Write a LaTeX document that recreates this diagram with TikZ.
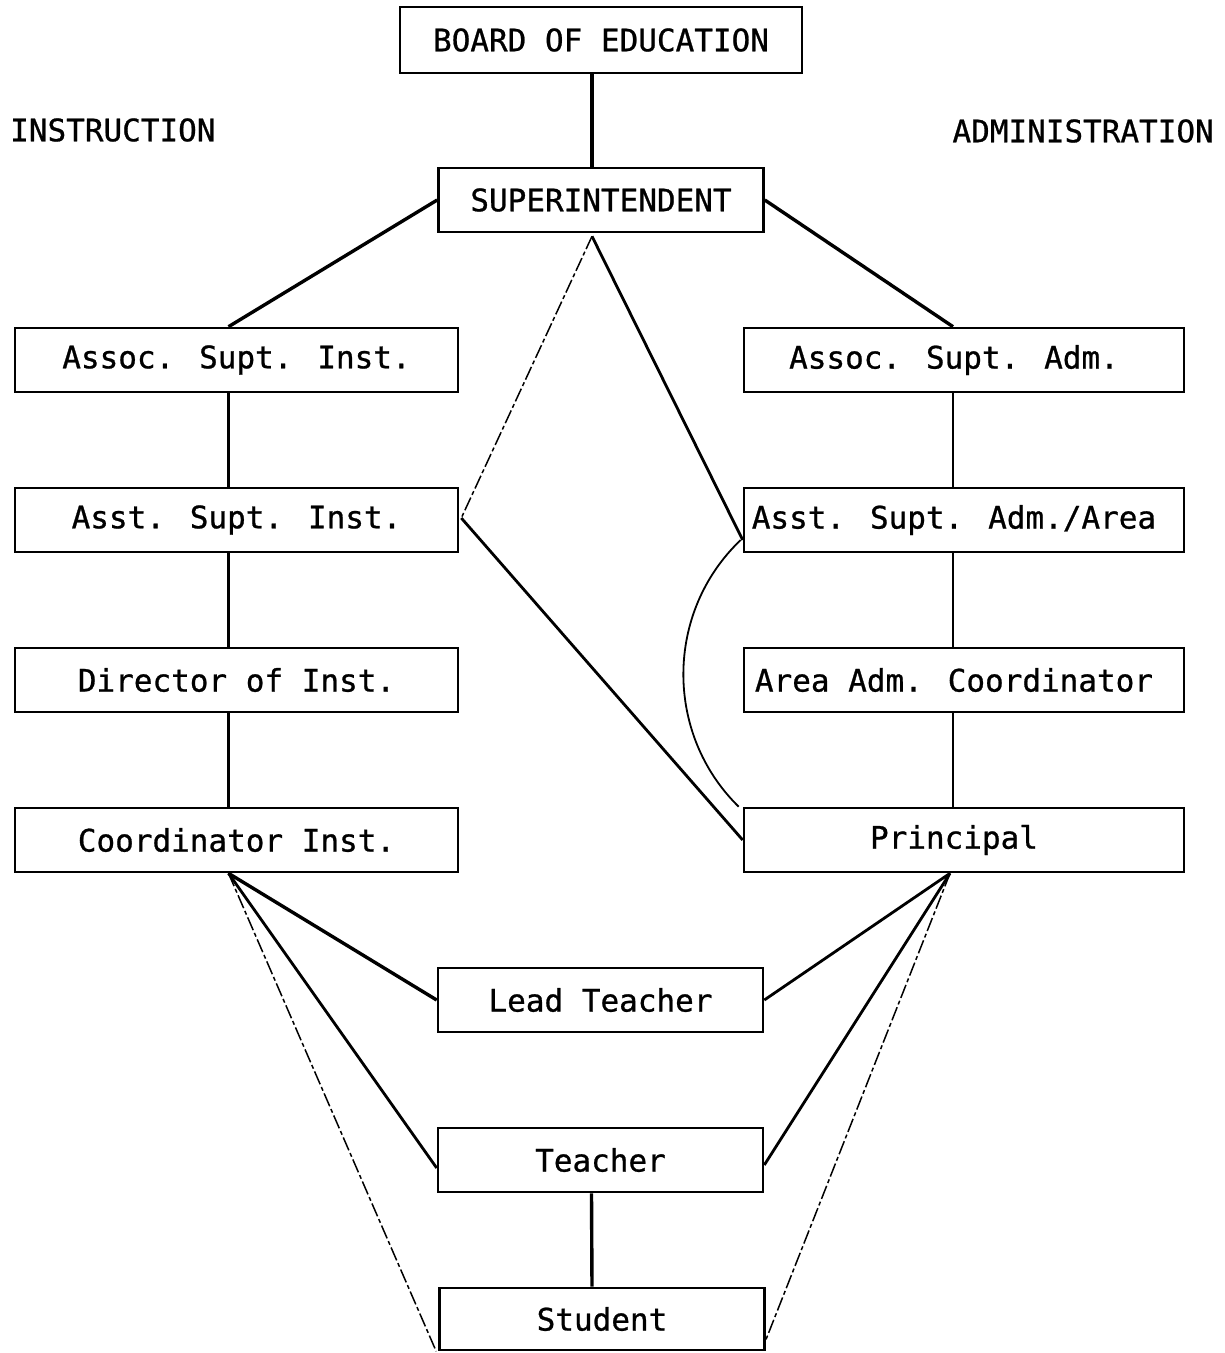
\documentclass[tikz,border=0pt]{standalone}
\usepackage{fontspec}
\newfontfamily\tw[FakeBold=0.8]{DejaVu Sans Mono}
\begin{document}
\begin{tikzpicture}[x=1pt,y=-1pt,
  box/.style={draw,line width=2.6pt,rectangle,minimum height=64pt,inner sep=0pt,font=\tw\fontsize{31}{34}\selectfont},
  lbox/.style={box,minimum width=443pt},
  rbox/.style={box,minimum width=440pt},
  cbox/.style={box,minimum width=325pt},
  lbl/.style={font=\tw\fontsize{31}{34}\selectfont,inner sep=0pt},
  heavy/.style={line width=3.4pt},
  mid/.style={line width=2.8pt},
  light/.style={line width=1.8pt},
  faint/.style={line width=1.5pt,dash pattern=on 14pt off 3pt on 4pt off 3pt}]
\useasboundingbox (0,0) rectangle (1225,1353);
% top
\node[box,minimum width=402pt,minimum height=66pt] (boe) at (601,40) {BOARD OF EDUCATION};
\node[cbox] (sup) at (601,200) {SUPERINTENDENT};
\node[lbl,anchor=west] (ins) at (10,130) {INSTRUCTION};
\node[lbl,anchor=east] (adm) at (1214,131) {ADMINISTRATION};
% left column
\node[lbox] (ai) at (236.5,360) {Assoc. Supt. Inst.};
\node[lbox] (asi) at (236.5,520) {Asst. Supt. Inst.};
\node[lbox] (di) at (236.5,680) {Director of Inst.};
\node[lbox] (ci) at (236.5,840) {Coordinator Inst.};
% right column
\node[rbox] (aa) at (964,360) {\hspace*{-20pt}Assoc. Supt. Adm.};
\node[rbox] (asa) at (964,520) {\hspace*{-20pt}Asst. Supt. Adm./Area};
\node[rbox] (aac) at (964,680) {\hspace*{-20pt}Area Adm. Coordinator};
\node[rbox] (prin) at (964,840) {\hspace*{-20pt}Principal};
% bottom column
\node[cbox] (lt) at (600.5,1000) {Lead Teacher};
\node[cbox] (t) at (600.5,1160) {Teacher};
\node[cbox,minimum height=62pt] (st) at (602,1319) {Student};
% connectors
\draw[heavy] ([xshift=-9pt]boe.south) -- ([xshift=-9pt]sup.north);
\draw[heavy] (sup.west) -- ([xshift=-8pt]ai.north);
\draw[heavy] (sup.east) -- ([xshift=-11pt]aa.north);
\draw[mid] ([xshift=-8pt]ai.south) -- ([xshift=-8pt]asi.north);
\draw[mid] ([xshift=-8pt]asi.south) -- ([xshift=-8pt]di.north);
\draw[mid] ([xshift=-8pt]di.south) -- ([xshift=-8pt]ci.north);
\draw[mid] ([xshift=-11pt]aa.south) -- ([xshift=-11pt]asa.north);
\draw[mid] ([xshift=-11pt]asa.south) -- ([xshift=-11pt]aac.north);
\draw[mid] ([xshift=-11pt]aac.south) -- ([xshift=-11pt]prin.north);
\draw[faint] ([xshift=-9pt,yshift=-3pt]sup.south) -- ([xshift=2pt,yshift=2pt]asi.east);
\draw[mid] ([xshift=-9pt,yshift=-3pt]sup.south) -- ([yshift=-20pt]asa.west);
\draw[mid] ([xshift=2pt,yshift=2pt]asi.east) -- (prin.west);
\draw[light] ([xshift=-2pt,yshift=-20pt]asa.west) to[bend right=46] ([xshift=-4pt]prin.north west);
\draw[heavy] ([xshift=-8pt]ci.south) -- (lt.west);
\draw[mid] ([xshift=-8pt]ci.south) -- ([yshift=-8pt]t.west);
\draw[faint] ([xshift=-8pt]ci.south) -- ([xshift=-2pt]st.south west);
\draw[mid] ([xshift=-14pt]prin.south) -- (lt.east);
\draw[mid] ([xshift=-14pt]prin.south) -- ([yshift=-5pt]t.east);
\draw[faint] ([xshift=-14pt]prin.south) -- ([yshift=-21pt]st.east);
\draw[heavy] ([xshift=-9pt]t.south) -- ([xshift=-10pt]st.north);
\end{tikzpicture}
\end{document}
